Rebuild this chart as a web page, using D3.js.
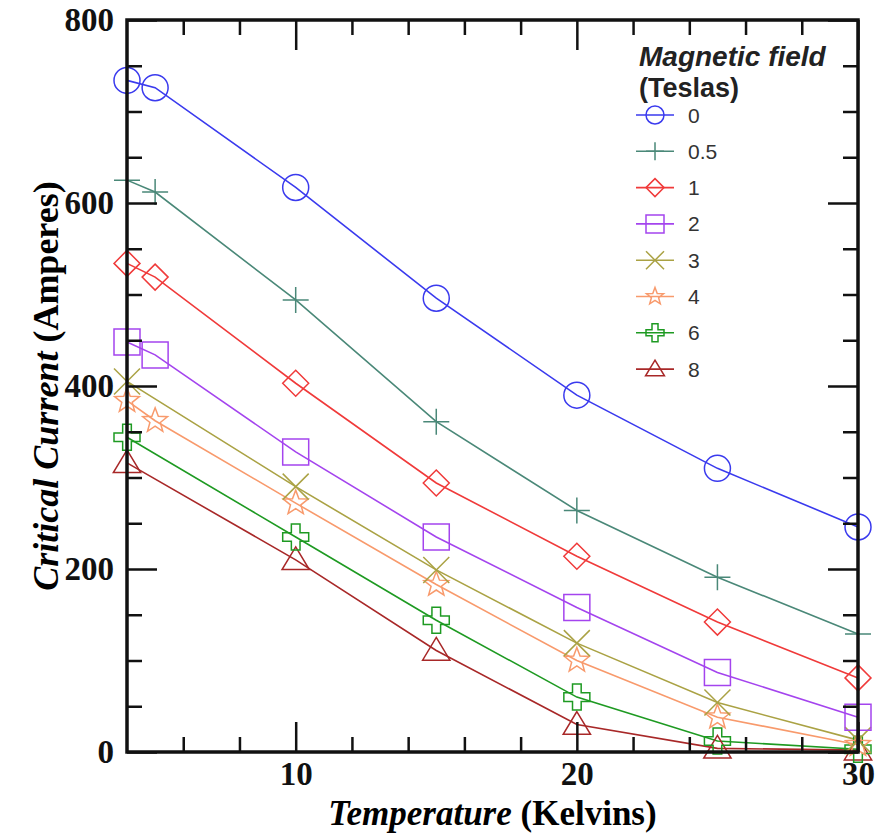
<!DOCTYPE html>
<html>
<head>
<meta charset="utf-8">
<script src="https://cdn.jsdelivr.net/npm/d3@7"></script>
<style>
  body { margin: 0; background: #fff; }
  svg { display: block; }
</style>
</head>
<body>
<div id="chart"></div>
<script>
// temperatures (K) at which the critical current was measured
var temps = [4, 5, 10, 15, 20, 25, 30]

// legend labels (field in Teslas)
var fields = ["0", "0.5", "1", "2", "3", "4", "6", "8"]

// critical current (A) per field, null = not measured
var current_0T  = [734, 726, 617, 496, 390, 310, 246]
var current_05T = [625, 612, 494, 361, 264, 191, 129]
var current_1T  = [534, 519, 403, 294, 214, 142, 81]
var current_2T  = [448, 434, 328, 235, 158, 87, 38]
var current_3T  = [405, null, 290, 199, 119, 54, 13]
var current_4T  = [384, 362, 272, 183, 100, 38, 8]
var current_6T  = [344, null, 235, 144, 60, 12, 3]
var current_8T  = [316, null, 210, 111, 30, 4, 2]

var xTicks = [10, 20, 30]
var yTicks = [0, 200, 400, 600, 800]

var colours = ["#3a3aee", "#4a8878", "#f03a3a", "#a444ee", "#aaa244", "#f89a6c", "#1e9a22", "#a82828"]
var shapes = ["circle", "plus", "diamond", "square", "x", "star", "cross", "triangle"]

var series = [current_0T, current_05T, current_1T, current_2T, current_3T, current_4T, current_6T, current_8T]
    .map(function(vals, i) {
        return {
            field: fields[i],
            colour: colours[i],
            shape: shapes[i],
            points: temps.map(function(t, j) { return {t: t, v: vals[j]} })
                .filter(function(p) { return p.v !== null })
        }
    })

var W = 877, H = 834
var margin = {top: 20, right: 19, bottom: 82, left: 127}

var svg = d3.select("#chart").append("svg")
    .attr("width", W)
    .attr("height", H)

var x = d3.scaleLinear().domain([4, 30]).range([margin.left, W - margin.right])
var y = d3.scaleLinear().domain([0, 800]).range([H - margin.bottom, margin.top])

var serif = "'Liberation Serif', 'Times New Roman', serif"
var sans = "'Liberation Sans', Arial, sans-serif"

// marker path, centred on 0,0
function markerPath(shape, r) {
    switch (shape) {
        case "circle":
            return d3.symbol(d3.symbolCircle, Math.PI * r * r)()
        case "plus":
            return "M" + (-r) + ",0H" + r + "M0," + (-r) + "V" + r
        case "diamond":
            return "M0," + (-r) + "L" + r + ",0L0," + r + "L" + (-r) + ",0Z"
        case "square":
            return "M" + (-r) + "," + (-r) + "H" + r + "V" + r + "H" + (-r) + "Z"
        case "x":
            return "M" + (-r) + "," + (-r) + "L" + r + "," + r + "M" + (-r) + "," + r + "L" + r + "," + (-r)
        case "star":
            var pts = []
            for (var k = 0; k < 10; k++) {
                var a = -Math.PI / 2 + k * Math.PI / 5
                var rr = k % 2 === 0 ? r : r * 0.42
                pts.push([rr * Math.cos(a), rr * Math.sin(a)])
            }
            return "M" + pts.join("L") + "Z"
        case "cross":
            var c = r / 3
            return "M" + (-c) + "," + (-r) + "H" + c + "V" + (-c) + "H" + r + "V" + c + "H" + c +
                "V" + r + "H" + (-c) + "V" + c + "H" + (-r) + "V" + (-c) + "H" + (-c) + "Z"
        case "triangle":
            return "M0," + (-r) + "L" + (r * 1.05) + "," + (r * 0.75) + "L" + (-r * 1.05) + "," + (r * 0.75) + "Z"
    }
}

var line = d3.line()
    .x(function(d) { return x(d.t) })
    .y(function(d) { return y(d.v) })

var plot = svg.append("g")

// lines
plot.selectAll(".series_line")
    .data(series.slice().reverse())
    .enter()
    .append("path")
    .attr("class", "series_line")
    .attr("d", function(d) { return line(d.points) })
    .attr("fill", "none")
    .attr("stroke", function(d) { return d.colour })
    .attr("stroke-width", 1.6)

// markers
var groups = plot.selectAll(".series_markers")
    .data(series.slice().reverse())
    .enter()
    .append("g")
    .attr("class", "series_markers")

groups.selectAll("path")
    .data(function(d) { return d.points.map(function(p) { return {p: p, s: d} }) })
    .enter()
    .append("path")
    .attr("transform", function(d) { return "translate(" + x(d.p.t) + "," + y(d.p.v) + ")" })
    .attr("d", function(d) { return markerPath(d.s.shape, 13) })
    .attr("fill", "none")
    .attr("stroke", function(d) { return d.s.colour })
    .attr("stroke-width", 1.5)

// axes: ticks point inward on all four sides
function minorRange(lo, hi, step, skip) {
    return d3.range(lo, hi + 0.001, step).filter(function(v) { return skip.indexOf(v) < 0 })
}
var xMinor = minorRange(6, 28, 2, xTicks)
var yMinor = minorRange(50, 750, 50, yTicks)

var yBottom = y.range()[0], yTop = y.range()[1]
var xLeft = x.range()[0], xRight = x.range()[1]

function styleAxis(g) {
    g.select(".domain").remove()
    g.selectAll(".tick line").attr("stroke", "#111").attr("stroke-width", 2.5)
    g.selectAll(".tick text")
        .attr("fill", "#111")
        .style("font-family", serif)
        .style("font-weight", "bold")
        .style("font-size", "33px")
}

svg.append("g").attr("transform", "translate(0," + yBottom + ")")
    .call(d3.axisBottom(x).tickValues(xTicks).tickSize(-30).tickPadding(10).tickFormat(d3.format("d")))
    .call(styleAxis)
svg.append("g").attr("transform", "translate(0," + yBottom + ")")
    .call(d3.axisBottom(x).tickValues(xMinor).tickSize(-15).tickFormat(""))
    .call(styleAxis)
svg.append("g").attr("transform", "translate(0," + yTop + ")")
    .call(d3.axisTop(x).tickValues(xTicks).tickSize(-30).tickFormat(""))
    .call(styleAxis)
svg.append("g").attr("transform", "translate(0," + yTop + ")")
    .call(d3.axisTop(x).tickValues(xMinor).tickSize(-15).tickFormat(""))
    .call(styleAxis)

svg.append("g").attr("transform", "translate(" + xLeft + ",0)")
    .call(d3.axisLeft(y).tickValues(yTicks).tickSize(-30).tickPadding(13).tickFormat(d3.format("d")))
    .call(styleAxis)
svg.append("g").attr("transform", "translate(" + xLeft + ",0)")
    .call(d3.axisLeft(y).tickValues(yMinor).tickSize(-15).tickFormat(""))
    .call(styleAxis)
svg.append("g").attr("transform", "translate(" + xRight + ",0)")
    .call(d3.axisRight(y).tickValues(yTicks).tickSize(-30).tickFormat(""))
    .call(styleAxis)
svg.append("g").attr("transform", "translate(" + xRight + ",0)")
    .call(d3.axisRight(y).tickValues(yMinor).tickSize(-15).tickFormat(""))
    .call(styleAxis)

// frame
svg.append("rect")
    .attr("x", xLeft)
    .attr("y", yTop)
    .attr("width", xRight - xLeft)
    .attr("height", yBottom - yTop)
    .attr("fill", "none")
    .attr("stroke", "#111")
    .attr("stroke-width", 3.5)

// axis titles
var xt = svg.append("text")
    .attr("x", (xLeft + xRight) / 2)
    .attr("y", 825)
    .attr("text-anchor", "middle")
    .style("font-family", serif)
    .style("font-weight", "bold")
    .style("font-size", "35px")
xt.append("tspan").style("font-style", "italic").text("Temperature")
xt.append("tspan").text(" (Kelvins)")

var yt = svg.append("text")
    .attr("transform", "translate(58," + ((yTop + yBottom) / 2) + ") rotate(-90)")
    .attr("text-anchor", "middle")
    .style("font-family", serif)
    .style("font-weight", "bold")
    .style("font-size", "36px")
yt.append("tspan").style("font-style", "italic").text("Critical Current")
yt.append("tspan").text(" (Amperes)")

// legend
var legend = svg.append("g")
legend.append("text")
    .attr("x", 639).attr("y", 66)
    .style("font-family", sans)
    .style("font-weight", "bold")
    .style("font-style", "italic")
    .style("font-size", "28px")
    .attr("fill", "#222")
    .text("Magnetic field")
legend.append("text")
    .attr("x", 639).attr("y", 97)
    .style("font-family", sans)
    .style("font-weight", "bold")
    .style("font-size", "27px")
    .attr("fill", "#222")
    .text("(Teslas)")

var entries = legend.selectAll(".legend_entry")
    .data(series)
    .enter()
    .append("g")
    .attr("class", "legend_entry")
    .attr("transform", function(d, i) { return "translate(655," + (115 + i * 36.3) + ")" })

entries.append("line")
    .attr("x1", -19).attr("x2", 19)
    .attr("stroke", function(d) { return d.colour })
    .attr("stroke-width", 1.6)
entries.append("path")
    .attr("d", function(d) { return markerPath(d.shape, 9) })
    .attr("fill", "none")
    .attr("stroke", function(d) { return d.colour })
    .attr("stroke-width", 1.5)
entries.append("text")
    .attr("x", 33)
    .attr("dy", "0.36em")
    .style("font-family", sans)
    .style("font-size", "21px")
    .attr("fill", "#333")
    .text(function(d) { return d.field })
</script>
</body>
</html>
